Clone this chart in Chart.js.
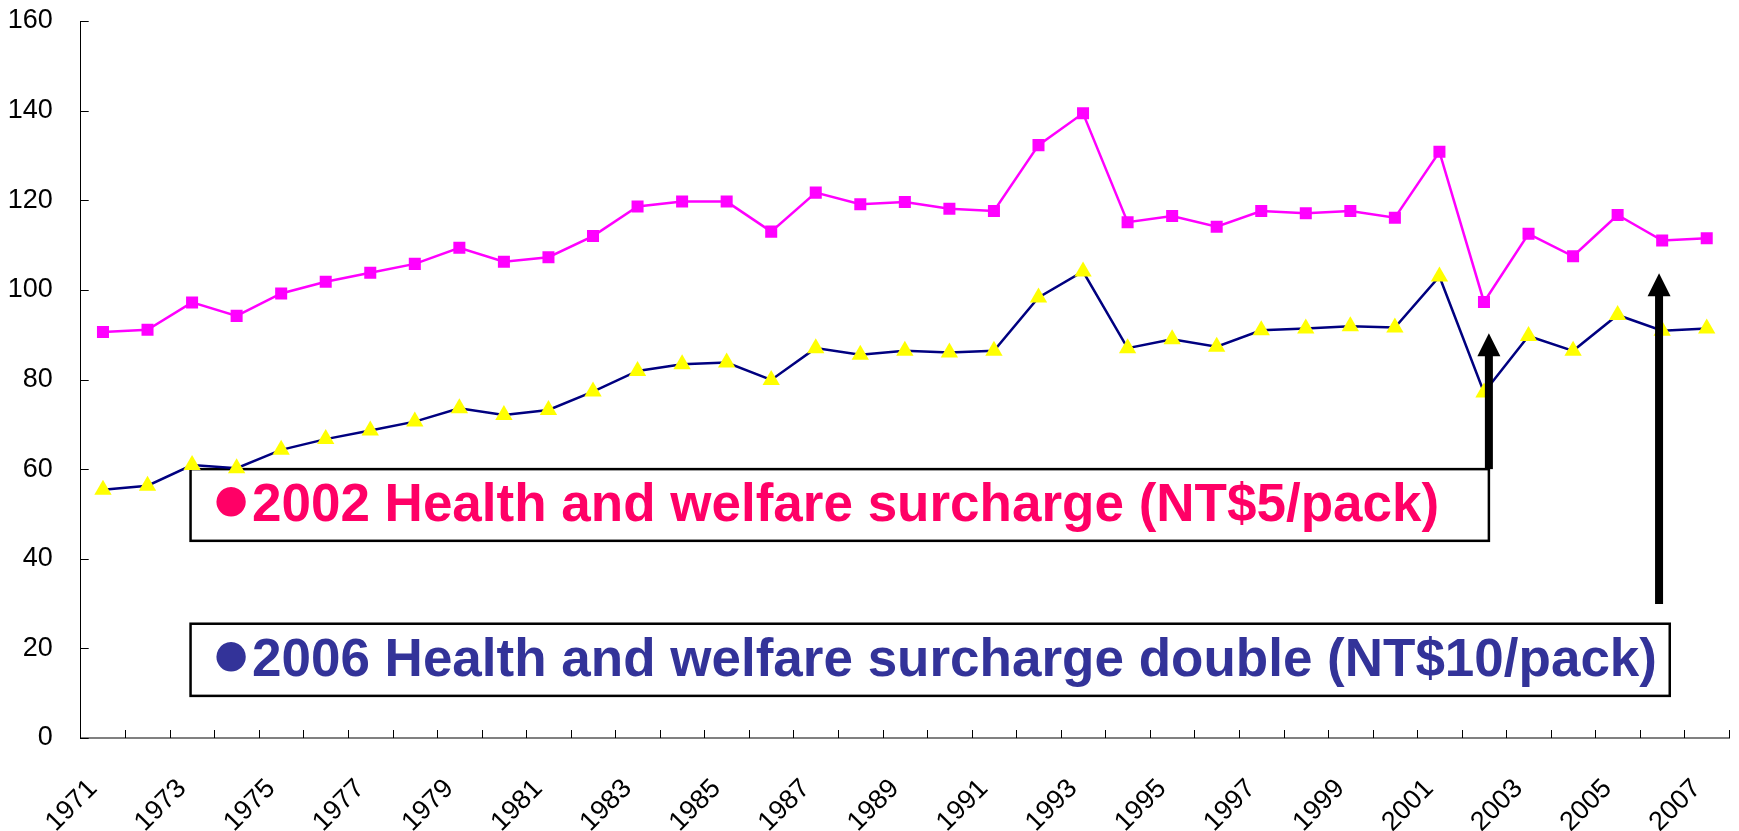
<!DOCTYPE html>
<html><head><meta charset="utf-8">
<script src="https://cdn.jsdelivr.net/npm/chart.js@4.4.1/dist/chart.umd.min.js"></script>
<style>html,body{margin:0;padding:0;background:#fff}#wrap{width:1739px;height:831px;position:relative}</style>
</head><body><div id="wrap"><canvas id="c" width="1739" height="831"></canvas></div>
<script>
const years = ['1971','1972','1973','1974','1975','1976','1977','1978','1979','1980',
  '1981','1982','1983','1984','1985','1986','1987','1988','1989','1990',
  '1991','1992','1993','1994','1995','1996','1997','1998','1999','2000',
  '2001','2002','2003','2004','2005','2006','2007'];
const seriesUpper = [90.6, 91.1, 97.2, 94.2, 99.2, 101.8, 103.8, 105.8, 109.4, 106.3,
  107.3, 112.0, 118.6, 119.7, 119.7, 113.0, 121.7, 119.1, 119.6, 118.1,
  117.6, 132.3, 139.4, 115.1, 116.5, 114.1, 117.6, 117.1, 117.6, 116.1,
  130.8, 97.3, 112.5, 107.5, 116.7, 111.0, 111.5];
const seriesLower = [55.4, 56.3, 60.9, 60.2, 64.3, 66.7, 68.6, 70.6, 73.6, 72.1,
  73.2, 77.3, 81.9, 83.4, 83.8, 79.9, 87.0, 85.5, 86.4, 86.0,
  86.4, 98.3, 104.1, 87.0, 89.0, 87.3, 91.0, 91.4, 91.9, 91.6,
  103.0, 77.1, 89.7, 86.4, 94.4, 90.9, 91.4];
const yMin = 0, yMax = 160, yStep = 20;
const bullet = '●';
const note2002 = '2002 Health and welfare surcharge (NT$5/pack)';
const note2006 = '2006 Health and welfare surcharge double (NT$10/pack)';

// annotation placement in data units (category index / value)
const noteBoxes = [
  {x0: 1.966, x1: 31.11, yTop: 60.0, yBot: 44.0, text: note2002, color: '#FF0066', bx: 2.875, by: 52.7, tx: 3.345, ty: 48.4},
  {x0: 1.966, x1: 35.17, yTop: 25.5, yBot: 9.4, text: note2006, color: '#333399', bx: 2.875, by: 18.1, tx: 3.345, ty: 13.9}
];
const noteArrows = [
  {x: 31.11, tip: 90.3, base: 60.0},
  {x: 34.93, tip: 103.7, base: 29.9}
];

function xAt(scale, i) {
  const p0 = scale.getPixelForValue(0), p1 = scale.getPixelForValue(1);
  return p0 + i * (p1 - p0);
}

const FONT = '"Liberation Sans", Arial, sans-serif';

function drawBullet(ctx, color, cx, cy, diameter) {
  ctx.save();
  ctx.font = 'bold 100px ' + FONT;
  const m = ctx.measureText(bullet);
  const w = m.actualBoundingBoxLeft + m.actualBoundingBoxRight;
  const h = m.actualBoundingBoxAscent + m.actualBoundingBoxDescent;
  const k = diameter / Math.max(w, h, 1);
  const size = 100 * k;
  ctx.font = 'bold ' + size + 'px ' + FONT;
  const m2 = ctx.measureText(bullet);
  const gx = cx - (m2.actualBoundingBoxRight - m2.actualBoundingBoxLeft) / 2;
  const gy = cy + (m2.actualBoundingBoxAscent - m2.actualBoundingBoxDescent) / 2;
  ctx.fillStyle = color;
  ctx.textAlign = 'left';
  ctx.textBaseline = 'alphabetic';
  ctx.fillText(bullet, gx, gy);
  ctx.restore();
}

const notesPlugin = {
  id: 'notes',
  beforeDatasetsDraw(chart) {
    const {ctx, scales: {x, y}, chartArea} = chart;
    ctx.save();
    // inside tick marks
    ctx.strokeStyle = '#000';
    ctx.lineWidth = 1;
    const half = (x.getPixelForValue(1) - x.getPixelForValue(0)) / 2;
    for (let i = 1; i <= years.length; i++) {
      const px = Math.round(x.getPixelForValue(i - 1) + half) + 0.5;
      ctx.beginPath();
      ctx.moveTo(px, chartArea.bottom);
      ctx.lineTo(px, chartArea.bottom - 8);
      ctx.stroke();
    }
    for (let v = yMin; v <= yMax; v += yStep) {
      const py = Math.round(y.getPixelForValue(v)) + 0.5;
      ctx.beginPath();
      ctx.moveTo(chartArea.left, py);
      ctx.lineTo(chartArea.left + 8, py);
      ctx.stroke();
    }
    // note boxes
    for (const b of noteBoxes) {
      const l = xAt(x, b.x0), r = xAt(x, b.x1);
      const t = y.getPixelForValue(b.yTop), bo = y.getPixelForValue(b.yBot);
      ctx.fillStyle = '#fff';
      ctx.fillRect(l, t, r - l, bo - t);
      ctx.strokeStyle = '#000';
      ctx.lineWidth = 2.5;
      ctx.strokeRect(l, t, r - l, bo - t);
      drawBullet(ctx, b.color, xAt(x, b.bx), y.getPixelForValue(b.by), 30);
      ctx.fillStyle = b.color;
      ctx.font = 'bold 53px ' + FONT;
      ctx.textAlign = 'left';
      ctx.textBaseline = 'alphabetic';
      const tx = xAt(x, b.tx);
      ctx.fillText(b.text, tx, y.getPixelForValue(b.ty), r - tx - 6);
    }
    ctx.restore();
  },
  afterDatasetsDraw(chart) {
    const {ctx, scales: {x, y}} = chart;
    ctx.save();
    ctx.fillStyle = '#000';
    for (const a of noteArrows) {
      const cx = xAt(x, a.x);
      const tip = y.getPixelForValue(a.tip), base = y.getPixelForValue(a.base);
      const headLen = 23, headHalf = 11.5, shaftHalf = 4;
      ctx.fillRect(cx - shaftHalf, tip + headLen - 1, shaftHalf * 2, base - tip - headLen + 1);
      ctx.beginPath();
      ctx.moveTo(cx, tip);
      ctx.lineTo(cx + headHalf, tip + headLen);
      ctx.lineTo(cx - headHalf, tip + headLen);
      ctx.closePath();
      ctx.fill();
    }
    ctx.restore();
  }
};

new Chart(document.getElementById('c'), {
  type: 'line',
  data: {
    labels: years,
    datasets: [
      {
        label: 'Upper series',
        data: seriesUpper,
        borderColor: '#FF00FF',
        backgroundColor: '#FF00FF',
        borderWidth: 2.5,
        pointStyle: 'rect',
        pointRadius: 8.5,
        pointBackgroundColor: '#FF00FF',
        pointBorderColor: '#FF00FF',
        pointBorderWidth: 0,
        tension: 0
      },
      {
        label: 'Lower series',
        data: seriesLower,
        borderColor: '#000080',
        backgroundColor: '#FFFF00',
        borderWidth: 2.5,
        pointStyle: 'triangle',
        pointRadius: 10,
        pointBackgroundColor: '#FFFF00',
        pointBorderColor: '#FFFF00',
        pointBorderWidth: 0,
        tension: 0
      }
    ]
  },
  options: {
    responsive: false,
    animation: false,
    events: [],
    layout: {padding: {top: 21, right: 8, left: 0, bottom: 0}},
    plugins: {legend: {display: false}, tooltip: {enabled: false}},
    scales: {
      x: {
        type: 'category',
        offset: true,
        grid: {display: false, drawTicks: false, offset: true},
        border: {display: true, color: '#808080', width: 2},
        ticks: {
          autoSkip: false,
          maxRotation: 45,
          minRotation: 45,
          padding: 35,
          labelOffset: -10,
          color: '#000',
          font: {family: FONT, size: 27},
          callback: (v, i) => (i % 2 === 0 ? years[i] : '')
        },
        afterFit: s => { s.height = 93; s.paddingLeft = 0; s.paddingRight = 0; }
      },
      y: {
        min: yMin,
        max: yMax,
        grid: {display: false, drawTicks: false},
        border: {display: true, color: '#000', width: 1},
        ticks: {
          stepSize: yStep,
          padding: 28,
          color: '#000',
          font: {family: FONT, size: 27}
        },
        afterFit: s => { s.width = 80.7; s.paddingTop = 0; s.paddingBottom = 0; }
      }
    }
  },
  plugins: [notesPlugin]
});
</script>
</body></html>
